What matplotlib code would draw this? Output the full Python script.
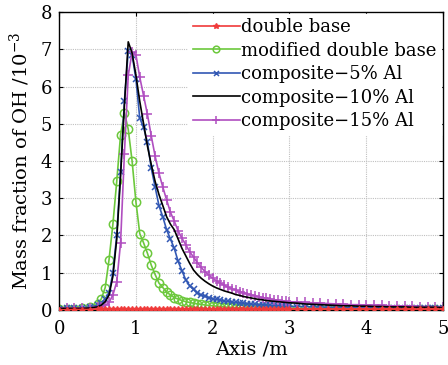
import matplotlib
matplotlib.use('Agg')
import matplotlib.pyplot as plt

plt.rcParams['font.family'] = ['DejaVu Serif']
plt.rcParams['mathtext.fontset'] = 'dejavuserif'

# shared axial positions (m)
axis_m = [0.0, 0.1, 0.2, 0.3, 0.4,
	0.5, 0.55, 0.6, 0.65, 0.7, 0.75, 0.8, 0.85, 0.9, 0.95,
	1.0, 1.05, 1.1, 1.15, 1.2, 1.25, 1.3, 1.35, 1.4, 1.45,
	1.5, 1.55, 1.6, 1.65, 1.7, 1.75, 1.8, 1.85, 1.9, 1.95,
	2.0, 2.05, 2.1, 2.15, 2.2, 2.25, 2.3, 2.35, 2.4, 2.45,
	2.5, 2.55, 2.6, 2.65, 2.7, 2.75, 2.8, 2.85, 2.9, 2.95,
	3.0, 3.1, 3.2, 3.3, 3.4, 3.5, 3.6, 3.7, 3.8, 3.9,
	4.0, 4.1, 4.2, 4.3, 4.4, 4.5, 4.6, 4.7, 4.8, 4.9, 5.0]

double_base = [0.0, 0.0, 0.01, 0.01, 0.01,
	0.02, 0.02, 0.02, 0.02, 0.02, 0.02, 0.02, 0.02, 0.02, 0.02,
	0.02, 0.02, 0.02, 0.02, 0.02, 0.02, 0.02, 0.02, 0.02, 0.02,
	0.02, 0.02, 0.02, 0.02, 0.02, 0.02, 0.02, 0.02, 0.02, 0.02,
	0.02, 0.02, 0.02, 0.02, 0.02, 0.02, 0.02, 0.02, 0.02, 0.02,
	0.02, 0.02, 0.02, 0.02, 0.02, 0.02, 0.02, 0.02, 0.02, 0.02,
	0.02, 0.02, 0.02, 0.02, 0.02, 0.02, 0.02, 0.02, 0.02, 0.02,
	0.02, 0.02, 0.02, 0.02, 0.02, 0.02, 0.02, 0.02, 0.02, 0.02, 0.02]

modified_db = [0.02, 0.02, 0.03, 0.04, 0.08,
	0.15, 0.3, 0.6, 1.35, 2.3, 3.45, 4.7, 5.3, 4.85, 4.0,
	2.9, 2.05, 1.8, 1.52, 1.2, 0.95, 0.72, 0.6, 0.48, 0.4,
	0.33, 0.29, 0.25, 0.22, 0.2, 0.18, 0.16, 0.15, 0.13, 0.12,
	0.11, 0.1, 0.09, 0.08, 0.07, 0.07, 0.06, 0.06, 0.05, 0.05,
	0.05, 0.04, 0.04, 0.04, 0.04, 0.03, 0.03, 0.03, 0.03, 0.03,
	0.03, 0.03, 0.03, 0.03, 0.03, 0.03, 0.03, 0.02, 0.02, 0.02,
	0.02, 0.02, 0.02, 0.02, 0.02, 0.02, 0.02, 0.02, 0.02, 0.02, 0.02]

al5 = [0.03, 0.04, 0.05, 0.06, 0.08,
	0.12, 0.18, 0.28, 0.45, 1.0, 2.0, 3.7, 5.6, 6.95, 6.85,
	6.2, 5.15, 4.9, 4.5, 3.8, 3.3, 2.8, 2.5, 2.15, 1.9,
	1.65, 1.3, 1.05, 0.8, 0.65, 0.55, 0.45, 0.4, 0.36, 0.33,
	0.3, 0.28, 0.26, 0.24, 0.23, 0.21, 0.2, 0.19, 0.18, 0.17,
	0.16, 0.15, 0.14, 0.14, 0.13, 0.12, 0.12, 0.11, 0.11, 0.1,
	0.1, 0.09, 0.09, 0.08, 0.08, 0.07, 0.07, 0.07, 0.06, 0.06,
	0.06, 0.06, 0.05, 0.05, 0.05, 0.05, 0.05, 0.05, 0.05, 0.05, 0.05]

al10 = [0.04, 0.04, 0.04, 0.04, 0.05,
	0.08, 0.13, 0.22, 0.4, 0.9, 1.9, 3.6, 5.5, 7.2, 6.9,
	6.3, 5.6, 5.0, 4.4, 3.9, 3.45, 3.1, 2.8, 2.5, 2.3,
	2.15, 1.9, 1.65, 1.45, 1.25, 1.07, 0.95, 0.85, 0.77, 0.7,
	0.64, 0.59, 0.55, 0.51, 0.48, 0.45, 0.41, 0.39, 0.36, 0.34,
	0.32, 0.3, 0.28, 0.27, 0.25, 0.24, 0.23, 0.22, 0.21, 0.2,
	0.19, 0.18, 0.16, 0.15, 0.14, 0.13, 0.12, 0.11, 0.11, 0.1,
	0.1, 0.09, 0.09, 0.08, 0.08, 0.08, 0.07, 0.07, 0.07, 0.07, 0.06]

al15 = [0.05, 0.05, 0.05, 0.05, 0.06,
	0.07, 0.09, 0.12, 0.2, 0.4, 0.75, 1.8, 4.2, 6.3, 6.92,
	6.85, 6.25, 5.75, 5.25, 4.67, 4.13, 3.67, 3.3, 2.95, 2.62,
	2.38, 2.12, 1.92, 1.75, 1.56, 1.42, 1.27, 1.14, 1.03, 0.93,
	0.85, 0.78, 0.72, 0.66, 0.61, 0.57, 0.53, 0.49, 0.46, 0.43,
	0.4, 0.38, 0.35, 0.33, 0.31, 0.29, 0.27, 0.26, 0.24, 0.23,
	0.22, 0.21, 0.2, 0.19, 0.18, 0.17, 0.16, 0.15, 0.14, 0.14,
	0.13, 0.12, 0.12, 0.11, 0.11, 0.1, 0.1, 0.09, 0.09, 0.08, 0.08]

labels = ['double base', 'modified double base', 'composite\u22125% Al',
	'composite\u221210% Al', 'composite\u221215% Al']

def main():
	fig = plt.figure(figsize=(4.48, 3.65), dpi=100)
	ax = fig.add_axes([0.132, 0.151, 0.857, 0.816])

	ax.plot(axis_m, double_base, color='#f03a3a', lw=1.2, marker='*', ms=5, label=labels[0], zorder=5)
	ax.plot(axis_m, modified_db, color='#6cc83c', lw=1.2, marker='o', ms=6, mfc='none', mew=1.1, label=labels[1])
	ax.plot(axis_m, al5, color='#3258b4', lw=1.2, marker='x', ms=4.5, mew=1.1, label=labels[2])
	ax.plot(axis_m, al10, color='black', lw=1.2, label=labels[3], zorder=4)
	ax.plot(axis_m, al15, color='#b04ec0', lw=1.2, marker='+', ms=7, mew=1.1, label=labels[4])

	ax.set_xlim(0, 5)
	ax.set_ylim(0, 8)
	ax.set_xticks([0, 1, 2, 3, 4, 5])
	ax.set_yticks([0, 1, 2, 3, 4, 5, 6, 7, 8])
	ax.tick_params(direction='in', labelsize=13, length=3, top=True, right=True)
	ax.tick_params(axis='x', pad=7)
	ax.tick_params(axis='y', pad=5)
	ax.grid(True, color='#c0c0c0', lw=0.8, ls=(0, (1, 1)))
	ax.set_axisbelow(True)
	for s in ax.spines.values():
		s.set_linewidth(1.0)

	ax.set_xlabel('Axis /m', fontsize=14, labelpad=2)
	ax.set_ylabel('Mass fraction of OH /10$^{-3}$', fontsize=14, labelpad=6)

	leg = ax.legend(loc='upper right', fontsize=13, frameon=True, fancybox=False,
		edgecolor='white', framealpha=1, borderaxespad=0.1, borderpad=0.25,
		handlelength=2.6, handletextpad=0.1, labelspacing=0.3, markerscale=0.8)

	fig.savefig('out.png', dpi=100)

if __name__ == '__main__':
	main()
